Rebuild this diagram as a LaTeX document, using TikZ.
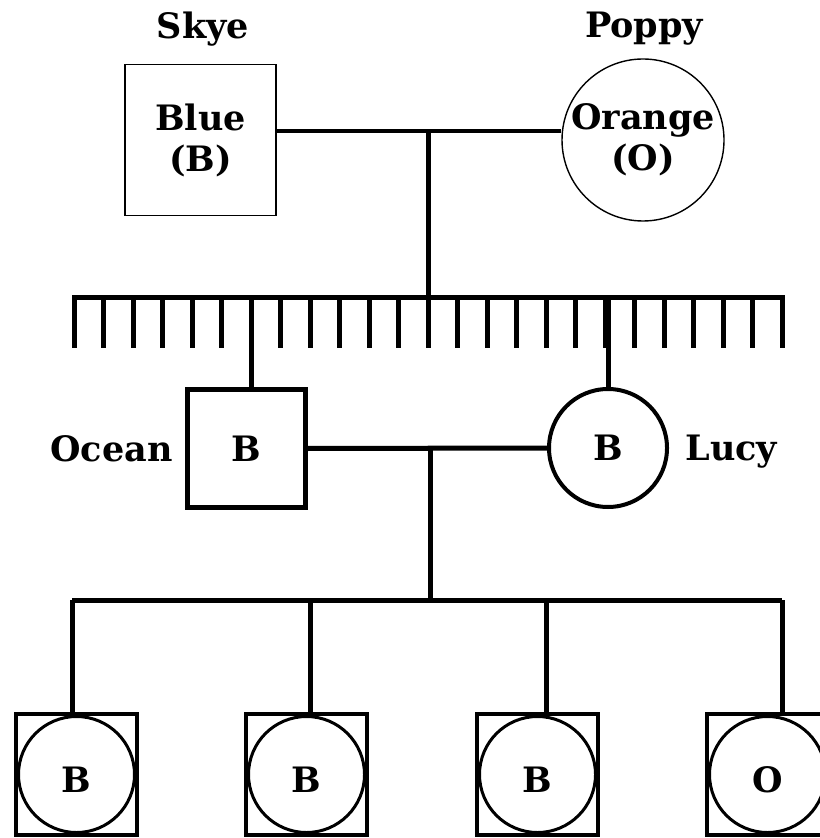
\documentclass[tikz,border=0pt]{standalone}
\usepackage{fontspec}
\setmainfont{DejaVu Serif}
\usepackage{tikz}
\usetikzlibrary{positioning}
\tikzstyle{old male} = [rectangle, draw=black, line width=0.7pt, minimum size=75.5pt, inner sep=0pt, align=center]
\tikzstyle{old female} = [circle, draw=black, line width=0.7pt, minimum size=81pt, inner sep=0pt, align=center]
\tikzstyle{male} = [rectangle, draw=black, line width=2.4pt, minimum size=59pt, inner sep=0pt]
\tikzstyle{female} = [circle, draw=black, line width=2pt, minimum size=59pt, inner sep=0pt]
\tikzstyle{child} = [rectangle, draw=black, line width=2.4pt, minimum size=60.5pt, inner sep=0pt]
\tikzstyle{child ring} = [circle, draw=black, line width=1.5pt, minimum size=58pt, inner sep=0pt, text height=18pt]
\tikzstyle{name tag} = [inner sep=0pt, text depth=0pt]
\tikzstyle{line} = [line width=2.5pt]

\begin{document}
\begin{tikzpicture}[x=0.5pt, y=-0.5pt, font=\fontsize{17.5}{20.5}\selectfont\bfseries, node distance=6pt]
        \useasboundingbox (0,0) rectangle (819,838);

        % grandparents
        \node[old male]                                        (skye)        at (200.5,140) {Blue\\(B)};
        \node[old female]                                      (poppy)       at (643,140)   {Orange\\(O)};
        \node[name tag]                                        (skye name)   at (203,25)    {Skye};
        \node[name tag]                                        (poppy name)  at (644,25)    {Poppy};

        % parents
        \node[male]                                            (ocean)       at (246.5,448.5) {B};
        \node[female]                                          (lucy)        at (608,448)   {B};
        \node[name tag, left=6pt of ocean]                     (ocean name)  {Ocean};
        \node[name tag, right=8pt of lucy]                     (lucy name)   {Lucy};

        % children
        \node[child]                                           (kid 1)       at (76.5,774.5)  {};
        \node[child]                                           (kid 2)       at (306.5,774.5) {};
        \node[child]                                           (kid 3)       at (537.5,774.5) {};
        \node[child]                                           (kid 4)       at (767.5,774.5) {};
        \node[child ring]                                      (ring 1)      at (kid 1)     {B};
        \node[child ring]                                      (ring 2)      at (kid 2)     {B};
        \node[child ring]                                      (ring 3)      at (kid 3)     {B};
        \node[child ring]                                      (ring 4)      at (kid 4)     {O};

        \coordinate (top mid)     at (428,131);
        \coordinate (comb mid)    at (428,298);
        \coordinate (comb left)   at (74,298);
        \coordinate (comb right)  at (782,298);
        \coordinate (ocean drop)  at (251.5,298);
        \coordinate (lucy drop)   at (608,298);
        \coordinate (mid mid)     at (430,448);
        \coordinate (kids mid)    at (430,600);
        \coordinate (kids left)   at (72,600);
        \coordinate (kids right)  at (782,600);
        \coordinate (drop 2)      at (310,600);
        \coordinate (drop 3)      at (546,600);

        \draw[line, line width=2.2pt] (top mid -| skye.east) -- (top mid -| poppy.west);
        \draw[line] (top mid) -- (comb mid);

        % sibling comb
        \draw[line] ([yshift=-25pt]comb left) -- (comb left) -- (comb right) -- ([yshift=-25pt]comb right);
        \foreach \i in {1,...,23}
            \draw[line] (74+29.5*\i,298) -- ++(0,50);
        \draw[line] (ocean drop) -- (ocean drop |- ocean.north);
        \draw[line] (lucy drop) -- (lucy.north);

        \draw[line] (ocean.east) -- (lucy.west);
        \draw[line] (mid mid) -- (kids mid);
        \draw[line] (kids left) -- (kids right);
        \draw[line] (kids left) -- (kids left |- kid 1.north);
        \draw[line] (drop 2) -- (drop 2 |- kid 2.north);
        \draw[line] (drop 3) -- (drop 3 |- kid 3.north);
        \draw[line] (kids right) -- (kids right |- kid 4.north);
    \end{tikzpicture}
\end{document}
